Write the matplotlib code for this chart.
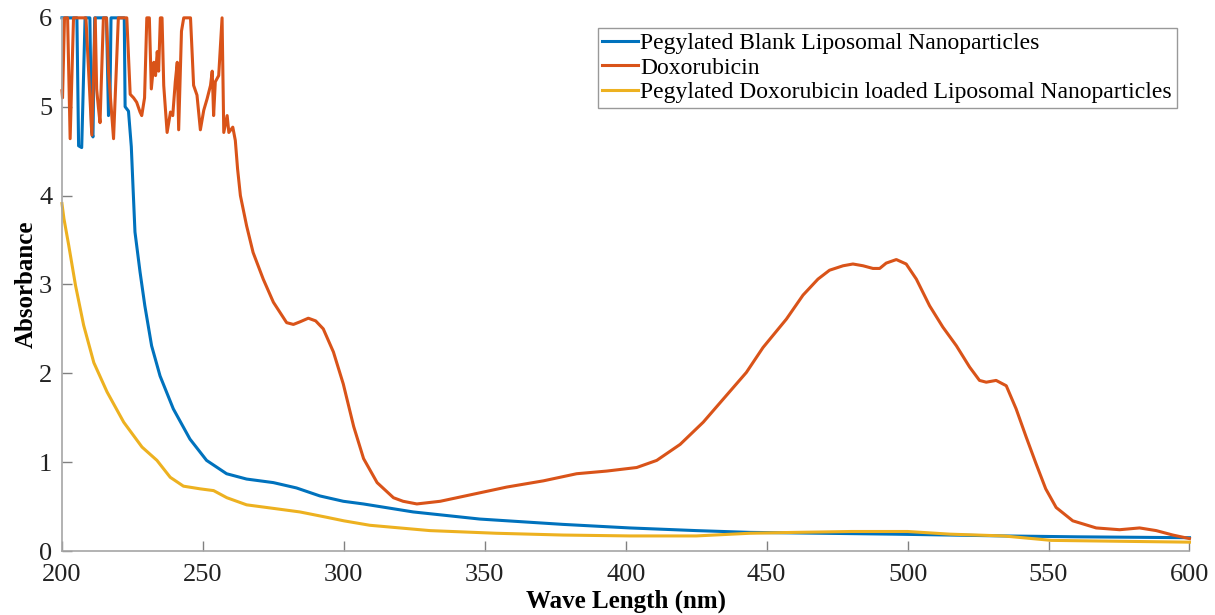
import numpy as np
import matplotlib
matplotlib.use("Agg")
import matplotlib.pyplot as plt

plt.rcParams['font.family'] = ['Liberation Serif', 'DejaVu Serif']

# Pegylated blank liposomal nanoparticles
wl_blank = [200.0, 205.3, 205.9, 207.0, 208.2, 209.9, 210.5, 211.0, 211.6, 215.8,
            216.5, 217.0, 217.4, 222.1, 222.4, 223.6, 224.6, 225.2, 225.9, 227.7,
            229.4, 231.8, 234.8, 239.5, 245.4, 251.3, 258.4, 265.5, 275.0, 283.2,
            291.5, 299.8, 306.9, 324.6, 348.2, 377.7, 401.4, 425.0, 444.0, 470.0,
            495.0, 515.0, 534.0, 560.0, 580.0, 600.0]
abs_blank = [6.0, 6.0, 4.56, 4.54, 6.0, 6.0, 4.72, 4.66, 6.0, 6.0,
             4.9, 5.0, 6.0, 6.0, 5.0, 4.95, 4.55, 4.1, 3.59, 3.14,
             2.76, 2.31, 1.97, 1.60, 1.26, 1.02, 0.87, 0.81, 0.77, 0.71,
             0.62, 0.56, 0.53, 0.44, 0.36, 0.30, 0.26, 0.23, 0.21, 0.20,
             0.19, 0.18, 0.17, 0.16, 0.155, 0.15]

# Doxorubicin
wl_dox = [200.0, 200.2, 200.9, 202.0, 202.9, 204.1, 208.5, 210.6, 211.8, 212.3,
          212.9, 213.5, 214.7, 215.8, 216.5, 218.3, 220.0, 223.0, 224.2, 225.4,
          226.5, 227.7, 228.3, 229.3, 230.1, 231.0, 231.7, 232.6, 233.2, 233.8,
          234.3, 234.9, 235.5, 236.1, 237.3, 238.5, 239.3, 240.2, 240.9, 241.4,
          242.4, 243.2, 245.6, 246.2, 246.7, 247.9, 249.1, 250.3, 251.5, 252.7,
          253.3, 253.8, 254.4, 255.6, 256.8, 257.4, 258.6, 259.2, 260.6, 261.5,
          262.3, 263.3, 265.5, 267.8, 271.4, 275.0, 279.7, 282.1, 284.5, 287.4,
          290.0, 292.7, 296.3, 299.8, 303.5, 307.0, 311.8, 317.6, 321.0, 325.9,
          334.2, 346.0, 357.8, 370.8, 382.6, 393.3, 403.9, 411.0, 419.3, 427.5,
          434.6, 442.8, 448.7, 457.0, 462.9, 468.2, 472.3, 477.1, 480.6, 484.2,
          487.7, 490.1, 492.4, 496.0, 499.5, 503.1, 507.8, 512.5, 517.3, 522.0,
          525.5, 527.9, 531.4, 535.0, 538.5, 542.1, 545.6, 549.0, 552.7, 558.6,
          566.9, 575.2, 582.3, 588.2, 594.1, 600.0]
abs_dox = [5.18, 5.10, 6.0, 6.0, 4.64, 6.0, 6.0, 4.68, 6.0, 5.2,
           5.0, 4.82, 6.0, 6.0, 5.4, 4.64, 6.0, 6.0, 5.14, 5.10,
           5.05, 4.94, 4.90, 5.10, 6.0, 6.0, 5.2, 5.5, 5.35, 5.62,
           5.4, 6.0, 6.0, 5.24, 4.71, 4.94, 4.90, 5.28, 5.5, 4.74,
           5.85, 6.0, 6.0, 5.59, 5.24, 5.13, 4.74, 4.96, 5.09, 5.24,
           5.4, 4.9, 5.28, 5.35, 6.0, 4.71, 4.9, 4.71, 4.77, 4.62,
           4.30, 4.0, 3.66, 3.36, 3.06, 2.80, 2.57, 2.55, 2.58, 2.62,
           2.59, 2.50, 2.24, 1.88, 1.40, 1.04, 0.77, 0.60, 0.56, 0.53,
           0.56, 0.64, 0.72, 0.79, 0.87, 0.90, 0.94, 1.02, 1.20, 1.45,
           1.71, 2.01, 2.29, 2.61, 2.88, 3.06, 3.16, 3.21, 3.23, 3.21,
           3.18, 3.18, 3.24, 3.28, 3.23, 3.06, 2.76, 2.52, 2.31, 2.07,
           1.92, 1.90, 1.92, 1.86, 1.60, 1.28, 0.98, 0.70, 0.49, 0.34,
           0.26, 0.24, 0.26, 0.23, 0.18, 0.14]

# Pegylated doxorubicin loaded liposomal nanoparticles
wl_loaded = [200.0, 200.7, 202.4, 204.8, 207.7, 211.3, 216.0, 221.9, 228.4, 233.7,
             238.4, 243.1, 249.0, 253.8, 258.5, 265.5, 275.0, 284.4, 293.9, 300.0,
             309.2, 330.5, 354.1, 377.7, 401.4, 425.0, 444.0, 460.0, 480.0, 500.0,
             515.0, 534.0, 551.0, 575.0, 600.0]
abs_loaded = [3.91, 3.74, 3.44, 2.99, 2.54, 2.12, 1.79, 1.45, 1.17, 1.02,
              0.83, 0.73, 0.70, 0.68, 0.60, 0.52, 0.48, 0.44, 0.38, 0.34,
              0.29, 0.23, 0.20, 0.18, 0.17, 0.17, 0.20, 0.21, 0.22, 0.22,
              0.19, 0.17, 0.12, 0.11, 0.10]

labels = ['Pegylated Blank Liposomal Nanoparticles',
          'Doxorubicin',
          'Pegylated Doxorubicin loaded Liposomal Nanoparticles']
colors = ['#0072BD', '#D95319', '#EDB120']

fig = plt.figure(figsize=(12.15, 6.15), dpi=100)
ax = fig.add_axes([0.051, 0.104, 0.928, 0.867])

lw = 2.2
ax.plot(wl_blank, abs_blank, color=colors[0], lw=lw, label=labels[0], clip_on=False)
ax.plot(wl_dox, abs_dox, color=colors[1], lw=lw, label=labels[1], clip_on=False)
ax.plot(wl_loaded, abs_loaded, color=colors[2], lw=lw, label=labels[2], clip_on=False)

ax.set_xlim(200, 600)
ax.set_ylim(0, 6)
ax.set_xticks(np.arange(200, 601, 50))
ax.set_yticks(np.arange(0, 7, 1))

for side in ['top', 'right']:
    ax.spines[side].set_visible(False)
for side in ['left', 'bottom']:
    ax.spines[side].set_color('#a6a6a6')
    ax.spines[side].set_linewidth(1.2)
ax.tick_params(direction='in', length=7, width=1, color='#808080',
               labelsize=19, labelcolor='#222222')
ax.tick_params(axis='x', pad=9)
ax.tick_params(axis='y', pad=7)

ax.set_xlabel('Wave Length (nm)', fontsize=18, fontweight='bold', labelpad=3)
ax.set_ylabel('Absorbance', fontsize=18, fontweight='bold', labelpad=1)

leg = ax.legend(loc='upper right', bbox_to_anchor=(0.9885, 0.981), borderaxespad=0,
                fontsize=17, frameon=True, fancybox=False, handlelength=1.5,
                handletextpad=0.1, labelspacing=0.12, borderpad=0.2)
leg.get_frame().set_edgecolor('#808080')
leg.get_frame().set_linewidth(1.0)

fig.savefig('out.png', dpi=100)
